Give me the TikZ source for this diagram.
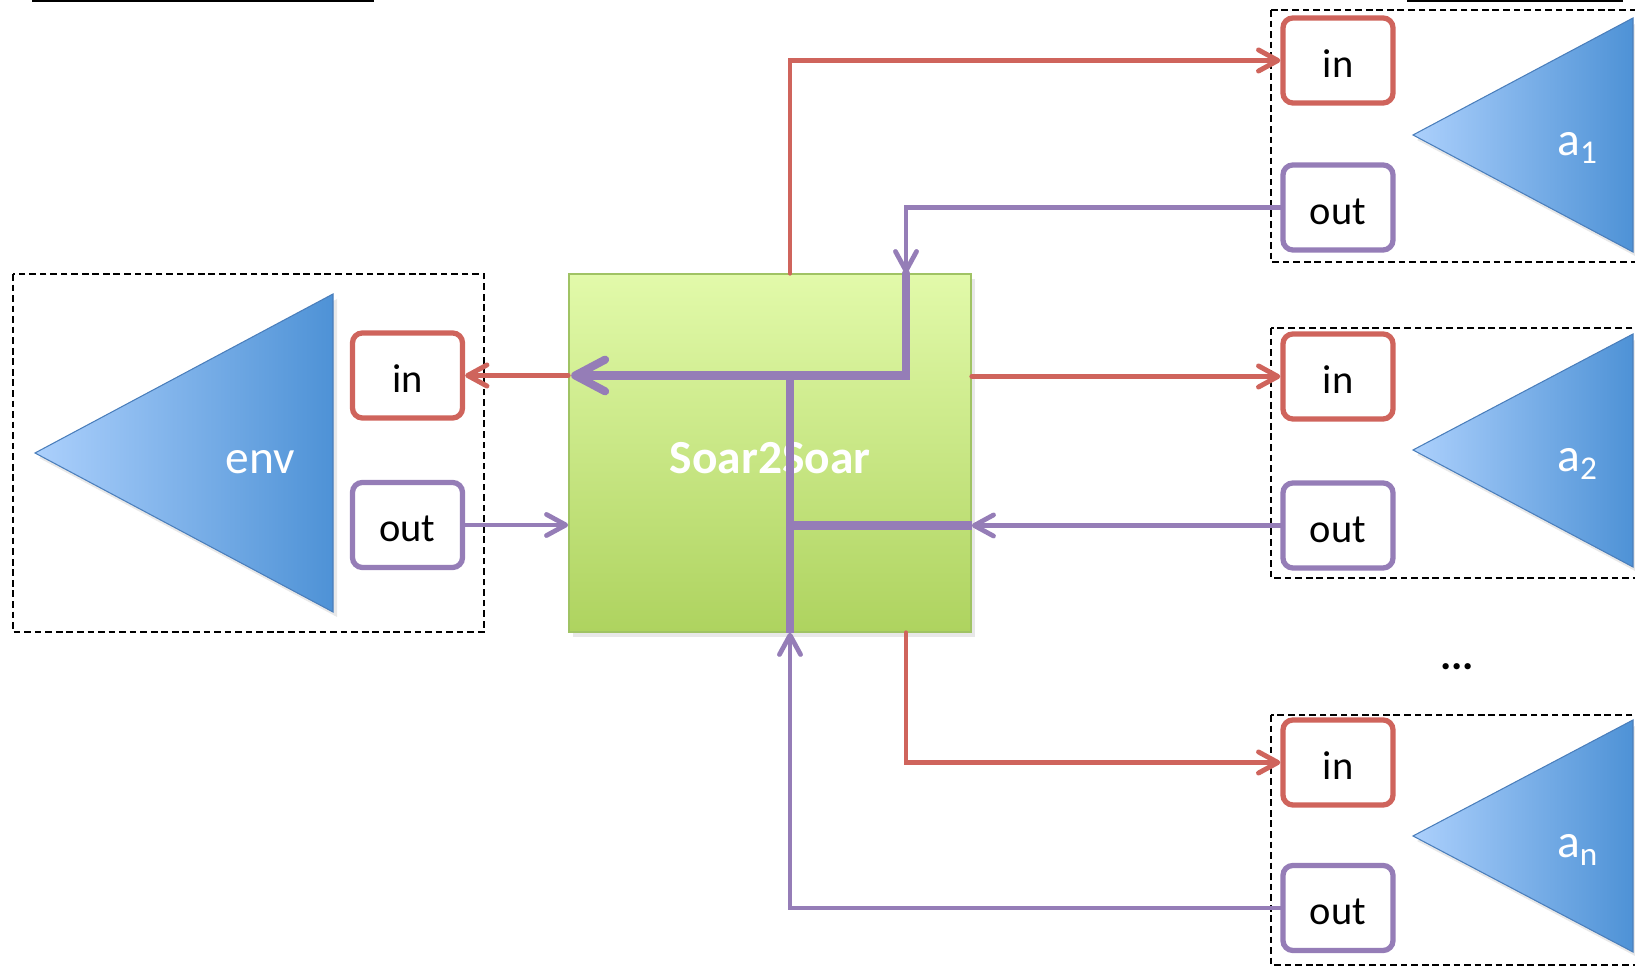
\documentclass[tikz,border=0pt]{standalone}
\usepackage{fontspec}
\setmainfont{Carlito}
\usetikzlibrary{arrows.meta,shadows}

\definecolor{linkred}{RGB}{207,100,92}
\definecolor{linkpurple}{RGB}{149,125,183}
\definecolor{triLight}{RGB}{172,208,252}
\definecolor{triDark}{RGB}{78,146,214}
\definecolor{triEdge}{RGB}{74,126,187}
\definecolor{hubTop}{RGB}{226,250,170}
\definecolor{hubBottom}{RGB}{174,211,95}
\definecolor{hubEdge}{RGB}{160,195,100}

\begin{document}
\begin{tikzpicture}[x=0.01cm, y=-0.01cm,
  port/.style={line width=1.5pt, rounded corners=0.1cm, fill=white,
    minimum width=1.1cm, minimum height=0.85cm, inner sep=0pt,
    text height=9.6pt, text depth=0pt,
    font=\fontsize{11.5}{13}\selectfont},
  inport/.style={port, draw=linkred},
  outport/.style={port, draw=linkpurple},
  group/.style={draw=black, line width=0.7pt, dash pattern=on 1.9pt off 1.1pt},
  agent/.style={left color=triLight, right color=triDark, draw=triEdge,
    line width=0.3pt,
    drop shadow={opacity=0.18, shadow xshift=0.04cm, shadow yshift=-0.05cm}},
  agentlabel/.style={text=white, inner sep=0pt, font=\fontsize{13.5}{16}\selectfont},
  hub/.style={top color=hubTop, bottom color=hubBottom, draw=hubEdge,
    line width=0.4pt, minimum width=4.02cm, minimum height=3.58cm,
    drop shadow={opacity=0.18, shadow xshift=0.04cm, shadow yshift=-0.05cm}},
  redlink/.style={draw=linkred, line width=1.4pt, line cap=round,
    -{Straight Barb[length=5.5pt, width=6pt, round]}},
  purplelink/.style={draw=linkpurple, line width=1.35pt, line cap=round,
    -{Straight Barb[length=5.5pt, width=6pt, round]}},
  thickroute/.style={draw=linkpurple, line width=2.3pt},
  rule/.style={draw=black, line width=0.6pt}
]
\useasboundingbox (0,0) rectangle (1635,968);

% title rules along the top edge
\draw[rule] (32,1) -- (374,1);
\draw[rule] (1407,1) -- (1623,1);

% dashed groups
\draw[group] (13,274) rectangle (484,632);
\draw[group] (1271,10) rectangle (1650,262);
\draw[group] (1271,328) rectangle (1650,578);
\draw[group] (1271,715) rectangle (1650,965);

% environment and agents
\path[agent] (35,453) -- (333,294) -- (333,612) -- cycle;
\path[agent] (1413,135) -- (1633,18) -- (1633,252) -- cycle;
\path[agent] (1413,450) -- (1633,334) -- (1633,567) -- cycle;
\path[agent] (1413,836) -- (1633,720) -- (1633,952) -- cycle;

\node[agentlabel] (envlabel) at (260,462) {env};
\node[agentlabel] (a1label) at (1578,148) {a\textsubscript{1}};
\node[agentlabel] (a2label) at (1578,464) {a\textsubscript{2}};
\node[agentlabel] (anlabel) at (1578,850) {a\textsubscript{n}};

% ports
\node[inport]  (envin)  at (407.5,375.5) {in};
\node[outport] (envout) at (407.5,525) {out};
\node[inport]  (a1in)   at (1338,60.5) {in};
\node[outport] (a1out)  at (1338,207.5) {out};
\node[inport]  (a2in)   at (1338,376.5) {in};
\node[outport] (a2out)  at (1338,525.5) {out};
\node[inport]  (anin)   at (1338,762.5) {in};
\node[outport] (anout)  at (1338,908) {out};

\node[font=\fontsize{12}{14}\selectfont\bfseries] (dots) at (1457,667) {...};

% hub
\node[hub] (s2s) at (770,453) {};
\node[text=white, font=\fontsize{13.5}{16}\selectfont\bfseries] (s2slabel) at (770,458) {Soar2Soar};

% routing columns
\coordinate (colA) at (790,0);
\coordinate (colB) at (906,0);

% routes inside the hub
\draw[thickroute, line cap=round, -{Straight Barb[length=8.5pt, width=9pt, round]}]
  (colB |- s2s.north) |- ([xshift=0.03cm]s2s.west |- envin.east);
\draw[thickroute] (colA |- envin.east) -- (colA |- s2s.south);
\draw[thickroute] (colA |- a2out.west) -- (s2s.east |- a2out.west);

% connectors
\draw[redlink] (colA |- s2s.north) |- (a1in.west);
\draw[purplelink] (a1out.west) -| (colB |- s2s.north);
\draw[redlink] (s2s.west |- envin.east) -- (envin.east);
\draw[purplelink] (envout.east) -- (s2s.west |- envout.east);
\draw[redlink] (s2s.east |- a2in.west) -- (a2in.west);
\draw[purplelink] (a2out.west) -- (s2s.east |- a2out.west);
\draw[redlink] (colB |- s2s.south) |- (anin.west);
\draw[purplelink] (anout.west) -| (colA |- s2s.south);
\end{tikzpicture}
\end{document}
